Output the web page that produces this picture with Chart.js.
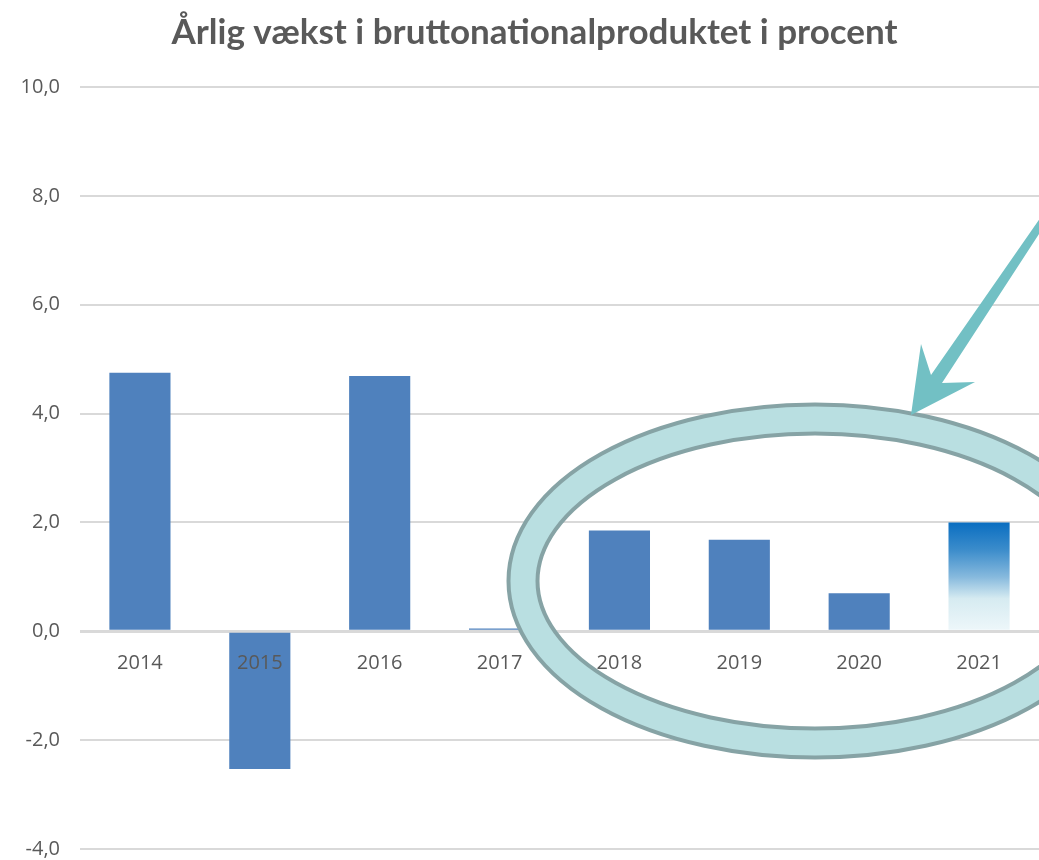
<!DOCTYPE html>
<html>
<head>
<meta charset="utf-8">
<script src="https://cdn.jsdelivr.net/npm/chart.js@4/dist/chart.umd.min.js"></script>
<style>
  html, body { margin: 0; padding: 0; background: #ffffff; }
  #wrap { width: 1039px; height: 860px; }
</style>
</head>
<body>
<div id="wrap"><canvas id="c" width="1039" height="860"></canvas></div>
<script>
const titleText = 'Årlig vækst i bruttonationalproduktet i procent';
const years = ['2014', '2015', '2016', '2017', '2018', '2019', '2020', '2021'];
const growth = [4.75, -2.53, 4.69, 0.05, 1.85, 1.68, 0.70, 2.0];
const yMin = -4;
const yMax = 10;
const yStep = 2;
const highlightIndex = 7;

const textColor = '#595959';
const gridColor = '#d9d9d9';
const barColor = '#4f81bd';

function barFill(ctx) {
  const chart = ctx.chart;
  if (ctx.dataIndex !== highlightIndex) return barColor;
  const ys = chart.scales.y;
  if (!ys || !chart.chartArea) return barColor;
  const top = ys.getPixelForValue(growth[ctx.dataIndex]);
  const bottom = ys.getPixelForValue(0);
  const g = chart.ctx.createLinearGradient(0, top, 0, bottom);
  g.addColorStop(0, '#0a6ec1');
  g.addColorStop(0.25, '#3b8ccb');
  g.addColorStop(0.5, '#86b9dd');
  g.addColorStop(0.7, '#d6ebf1');
  g.addColorStop(1, '#eef7fa');
  return g;
}

const titleShift = {
  id: 'titleShift',
  afterLayout(chart) {
    if (chart.titleBlock) {
      chart.titleBlock.left = 30;
    }
  }
};

const annotationPlugin = {
  id: 'highlightRing',
  afterDatasetsDraw(chart) {
    const c = chart.ctx;
    c.save();
    const cx = 815, cy = 581;
    c.beginPath();
    c.ellipse(cx, cy, 292, 162, 0, 0, Math.PI * 2);
    c.lineWidth = 33;
    c.strokeStyle = '#86a3a5';
    c.stroke();
    c.beginPath();
    c.ellipse(cx, cy, 292, 162, 0, 0, Math.PI * 2);
    c.lineWidth = 25;
    c.strokeStyle = '#b9dfe1';
    c.stroke();
    c.beginPath();
    c.moveTo(1050, 204);
    c.lineTo(931, 375);
    c.lineTo(921, 344);
    c.lineTo(911, 415);
    c.lineTo(975, 382);
    c.lineTo(942, 383);
    c.lineTo(1050, 217);
    c.closePath();
    c.fillStyle = '#72c0c4';
    c.fill();
    c.restore();
  }
};

new Chart(document.getElementById('c'), {
  type: 'bar',
  data: {
    labels: years,
    datasets: [{
      data: growth,
      backgroundColor: barFill,
      borderWidth: 0,
      barPercentage: 0.51,
      categoryPercentage: 1.0
    }]
  },
  options: {
    responsive: false,
    animation: false,
    devicePixelRatio: 1,
    layout: { padding: { left: 0, right: 0, top: 0, bottom: 0 } },
    plugins: {
      legend: { display: false },
      tooltip: { enabled: false },
      title: {
        display: true,
        text: titleText,
        color: textColor,
        font: { family: 'Lato', size: 35, weight: 'bold', lineHeight: 1.2 },
        padding: { top: 12, bottom: 33 }
      }
    },
    scales: {
      x: {
        type: 'category',
        position: { y: 0 },
        offset: true,
        afterFit(scale) { scale.height = 0; },
        grid: { display: false, drawTicks: false },
        border: { display: false },
        ticks: {
          z: 1,
          color: textColor,
          font: { family: 'Open Sans', size: 20 },
          padding: 20,
          maxRotation: 0,
          autoSkip: false
        }
      },
      y: {
        min: yMin,
        max: yMax,
        afterFit(scale) { scale.width = 80; },
        grid: {
          color: gridColor,
          lineWidth: (ctx) => (ctx.tick && ctx.tick.value === 0 ? 3 : 2),
          drawTicks: true,
          tickLength: 20,
          tickColor: 'rgba(0,0,0,0)'
        },
        border: { display: false },
        ticks: {
          stepSize: yStep,
          color: textColor,
          font: { family: 'Open Sans', size: 20, lineHeight: 1.1 },
          padding: 0,
          callback: (v) => Number(v).toFixed(1).replace('.', ',')
        }
      }
    }
  },
  plugins: [titleShift, annotationPlugin]
});
</script>
</body>
</html>
